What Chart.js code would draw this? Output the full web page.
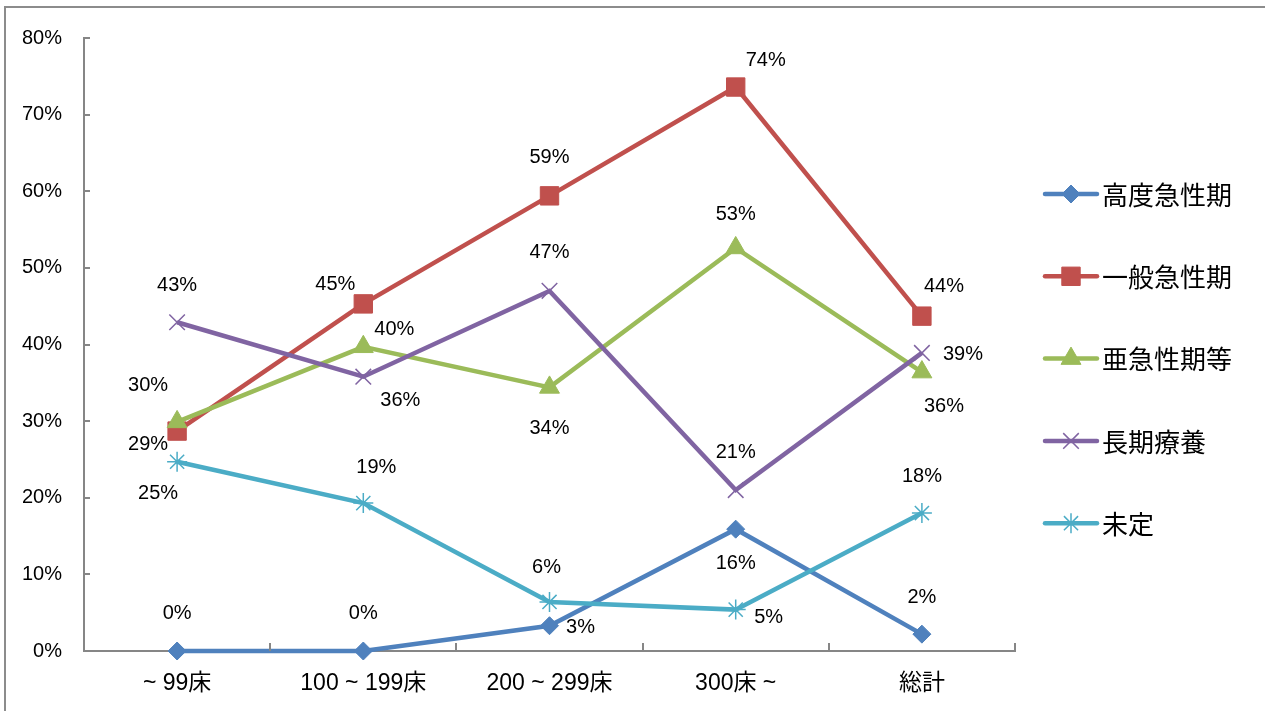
<!DOCTYPE html>
<html>
<head>
<meta charset="utf-8">
<script src="https://cdn.jsdelivr.net/npm/chart.js@4"></script>
<style>
  html, body { margin: 0; padding: 0; background: #fff; }
  #wrap { width: 1274px; height: 711px; }
</style>
</head>
<body>
<div id="wrap"><canvas id="bedChart"></canvas></div>
<script>
// カテゴリ(病床規模)と系列
const categories = ["~ 99床", "100 ~ 199床", "200 ~ 299床", "300床 ~", "総計"];
const seriesNames = ["高度急性期", "一般急性期", "亜急性期等", "長期療養", "未定"];

// 値(%) 図から読み取り
const kodoKyusei = [0, 0, 3.3, 15.9, 2.2];
const ippanKyusei = [28.7, 45.3, 59.4, 73.6, 43.7];
const aKyusei = [29.9, 39.7, 34.4, 52.6, 36.4];
const chokiRyoyo = [42.9, 35.8, 47.0, 21.0, 38.9];
const mitei = [24.7, 19.3, 6.4, 5.4, 18.0];

const yTickValues = [0, 10, 20, 30, 40, 50, 60, 70, 80];

// 見た目
const colors = ["#4F81BD", "#C0504D", "#9BBB59", "#8064A2", "#4BACC6"];
const pointStyles = ["rectRot", "rect", "triangle", "crossRot", "star"];
const pointRadii = [9, 13, 11.5, 11, 10];

// データラベルのずれ (dx, dy)
const labelOffsets = [
  [[0, -38], [0, -38], [31, 2], [0, 34], [0, -37]],
  [[-29, 13], [-28, -19], [0, -38], [30, -27], [22, -30]],
  [[-29, -36], [31, -17], [0, 41], [0, -33], [22, 34]],
  [[0, -37], [37, 24], [0, -38], [0, -38], [41, 2]],
  [[-19, 32], [13, -36], [-3, -34], [33, 8], [0, -37]],
];

const allSeries = [kodoKyusei, ippanKyusei, aKyusei, chokiRyoyo, mitei];
const AXIS_COLOR = "#868686";
const LATIN = "'Liberation Sans', Arial, 'Noto Sans CJK JP', sans-serif";
const CJK = "'Noto Sans CJK JP', 'Liberation Sans', sans-serif";

function isStroked(style) {
  return style === "crossRot" || style === "star";
}

const frame = {
  id: "frame",
  beforeDraw(chart) {
    const ctx = chart.ctx;
    ctx.save();
    ctx.fillStyle = "#fff";
    ctx.fillRect(0, 0, chart.width, chart.height);
    ctx.strokeStyle = "#8c8c8c";
    ctx.lineWidth = 2;
    ctx.beginPath();
    ctx.moveTo(5, chart.height);
    ctx.lineTo(5, 7);
    ctx.lineTo(1265, 7);
    ctx.stroke();
    ctx.restore();
  },
  afterDraw(chart) {
    // 内向きの目盛り
    const ctx = chart.ctx;
    const x = chart.scales.x, y = chart.scales.y;
    const area = chart.chartArea;
    ctx.save();
    ctx.strokeStyle = AXIS_COLOR;
    ctx.lineWidth = 2;
    ctx.beginPath();
    yTickValues.forEach(v => {
      const py = Math.round(y.getPixelForValue(v));
      ctx.moveTo(area.left, py);
      ctx.lineTo(area.left + 6, py);
    });
    const step = (area.right - area.left) / categories.length;
    for (let i = 1; i <= categories.length; i++) {
      const px = Math.round(area.left + step * i);
      ctx.moveTo(px, area.bottom);
      ctx.lineTo(px, area.bottom - 8);
    }
    ctx.stroke();
    ctx.restore();
  }
};

const dataLabels = {
  id: "dataLabels",
  afterDatasetsDraw(chart) {
    const ctx = chart.ctx;
    ctx.save();
    ctx.font = "20px " + LATIN;
    ctx.fillStyle = "#000";
    ctx.textAlign = "center";
    ctx.textBaseline = "middle";
    chart.data.datasets.forEach((ds, i) => {
      const meta = chart.getDatasetMeta(i);
      meta.data.forEach((pt, j) => {
        const off = labelOffsets[i][j];
        ctx.fillText(Math.round(ds.data[j]) + "%", pt.x + off[0], pt.y + off[1]);
      });
    });
    ctx.restore();
  }
};

const sideLegend = {
  id: "sideLegend",
  afterDraw(chart) {
    const ctx = chart.ctx;
    chart.data.datasets.forEach((ds, i) => {
      const cy = 194 + i * 82.3;
      ctx.save();
      ctx.strokeStyle = ds.borderColor;
      ctx.lineWidth = 4.5;
      ctx.lineCap = "round";
      ctx.beginPath();
      ctx.moveTo(1045, cy);
      ctx.lineTo(1097, cy);
      ctx.stroke();
      ctx.restore();

      ctx.save();
      ctx.lineCap = "butt";
      ctx.fillStyle = ds.borderColor;
      ctx.strokeStyle = ds.borderColor;
      ctx.lineWidth = ds.pointBorderWidth;
      Chart.helpers.drawPoint(ctx, {
        pointStyle: ds.pointStyle,
        radius: ds.pointRadius,
        borderWidth: ds.pointBorderWidth,
        rotation: 0
      }, 1071, cy);
      ctx.restore();

      ctx.save();
      ctx.fillStyle = "#000";
      ctx.font = "26px " + CJK;
      ctx.textAlign = "left";
      ctx.textBaseline = "middle";
      ctx.fillText(seriesNames[i], 1102, cy + 1);
      ctx.restore();
    });
  }
};

const datasets = allSeries.map((vals, i) => ({
  label: seriesNames[i],
  data: vals,
  borderColor: colors[i],
  backgroundColor: colors[i],
  borderWidth: 4.5,
  pointStyle: pointStyles[i],
  pointRadius: pointRadii[i],
  pointBackgroundColor: colors[i],
  pointBorderColor: colors[i],
  pointBorderWidth: isStroked(pointStyles[i]) ? 1.5 : 1,
  tension: 0,
  clip: false,
  order: allSeries.length - i
}));

const ctx = document.getElementById("bedChart").getContext("2d");
new Chart(ctx, {
  type: "line",
  data: { labels: categories, datasets: datasets },
  options: {
    responsive: true,
    maintainAspectRatio: false,
    animation: false,
    layout: { padding: { top: 38, right: 259, left: 0, bottom: 0 } },
    plugins: {
      legend: { display: false },
      tooltip: { enabled: false }
    },
    scales: {
      x: {
        offset: true,
        grid: { display: false, drawTicks: false },
        border: { display: true, color: AXIS_COLOR, width: 2 },
        ticks: { color: "#000", font: { size: 23, family: LATIN }, padding: 19 },
        afterFit(scale) { scale.height = 60; }
      },
      y: {
        min: 0,
        max: 80,
        grid: { display: false, drawTicks: false },
        border: { display: true, color: AXIS_COLOR, width: 2 },
        ticks: {
          stepSize: 10,
          color: "#000",
          font: { size: 20, family: LATIN },
          padding: 22,
          callback: v => v + "%"
        },
        afterFit(scale) { scale.width = 84; }
      }
    }
  },
  plugins: [frame, dataLabels, sideLegend]
});
</script>
</body>
</html>
